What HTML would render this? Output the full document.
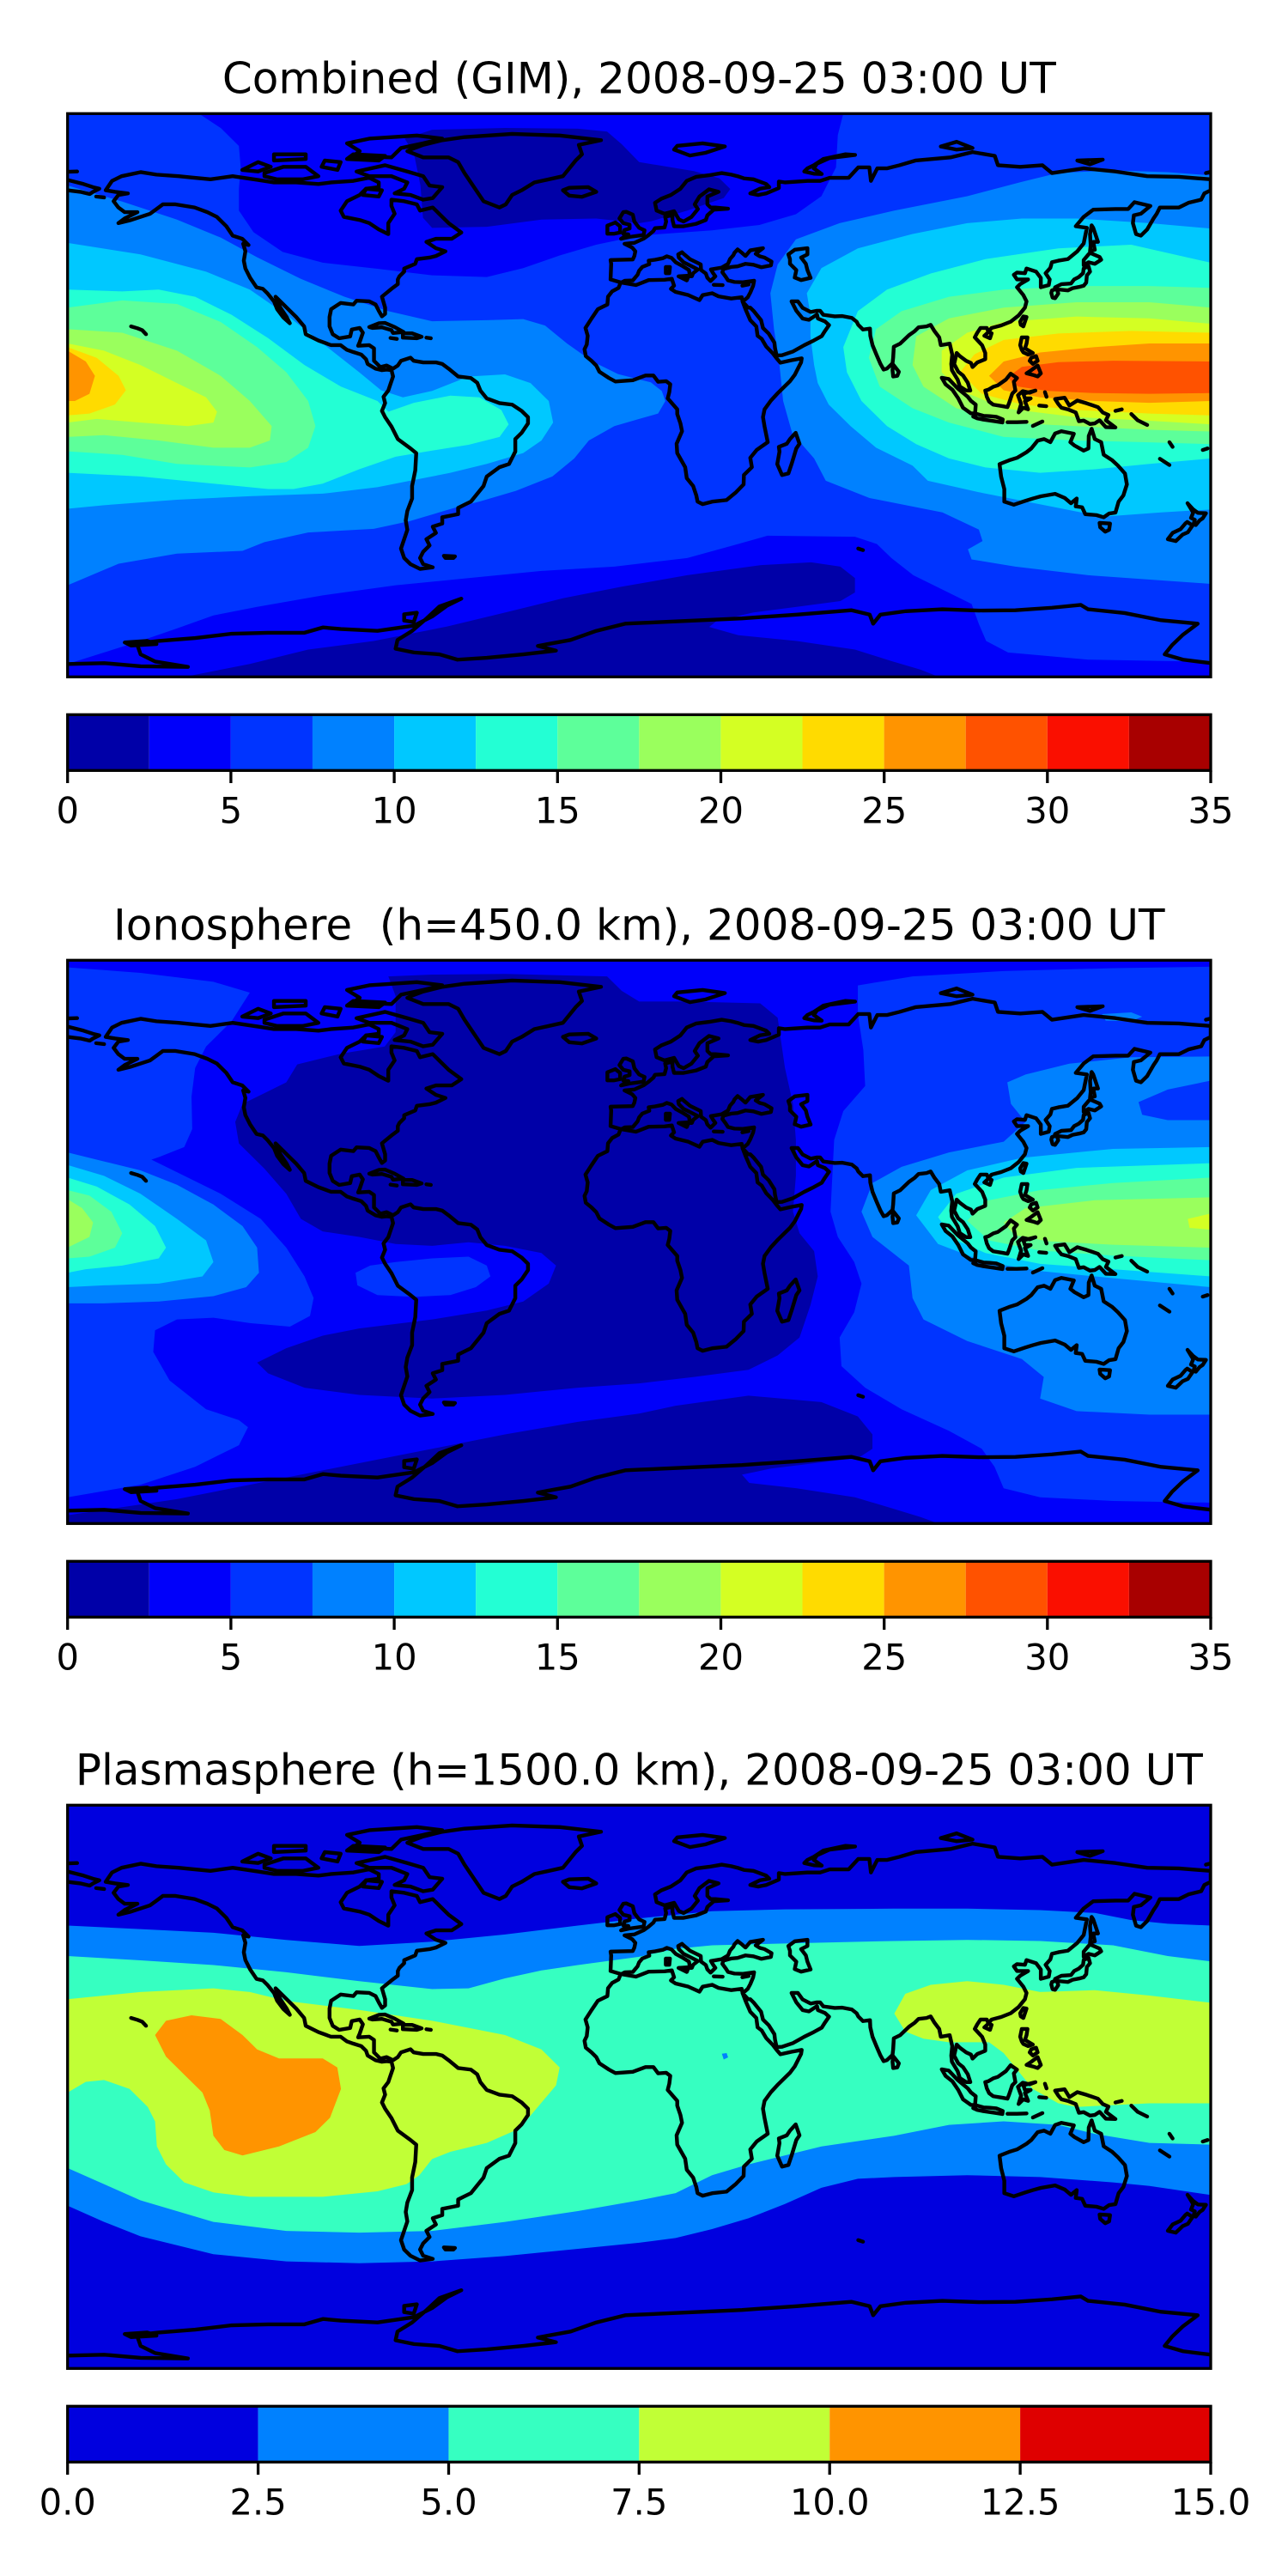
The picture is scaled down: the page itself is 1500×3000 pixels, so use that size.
<!DOCTYPE html>
<html><head><meta charset="utf-8">
<style>
html,body{margin:0;padding:0;background:#fff;width:1500px;height:3000px;overflow:hidden}
svg{display:block}
text{font-family:"DejaVu Sans","Liberation Sans",sans-serif;fill:#000}
.t{font-size:50px;white-space:pre}
.k{font-size:41.67px}
</style></head>
<body>
<svg width="1500" height="3000" viewBox="0 0 1500 3000">
<defs>
<clipPath id="c1"><rect x="78.7" y="132.3" width="1331.3" height="656"/></clipPath>
<clipPath id="c2"><rect x="78.7" y="1118.3" width="1331.3" height="656"/></clipPath>
<clipPath id="c3"><rect x="78.7" y="2102.3" width="1331.3" height="656"/></clipPath>
<g id="coast" fill="none" stroke="#000" stroke-width="1.2" stroke-linejoin="round" stroke-linecap="round">
<polygon points="-168,65.5 -166,68.5 -163,70 -157,71.3 -152,70.5 -145,70 -141,69.6 -135,69 -128,70 -120,68.8 -115,68 -108,68 -101,67.5 -97,68 -90,68.5 -85,69.5 -82,68 -82,66.5 -86,66 -88,64 -92,62 -94,59 -93,57 -88,56 -85,55 -82,53 -79,51.5 -79,55 -77,58 -78,60.5 -78,62.5 -74,62 -70,61 -69,59 -65,60 -62,57 -60,55 -56,52 -59,50 -64,50 -67,49 -64,47 -61,46 -64,44.5 -66,44 -70,43.5 -70.5,42 -74,40.5 -74,39.5 -75.5,38 -76,37 -76,35.5 -78,34 -81,31.5 -80,28 -80,26 -81,25.2 -82,27 -83,29 -85,30 -89,30.2 -90,29 -94,29.5 -97,27.5 -97.5,25 -97.5,22 -96.5,19.5 -94.5,18.2 -91,18.8 -90.5,21 -88,21.5 -87,20 -88,17 -88.5,15.8 -85,16 -83.5,15 -83.5,11 -81.5,9 -79.5,9.5 -77.5,8.5 -76,9.5 -75,11 -72,12 -71,11 -68,10.5 -64,10.5 -62,10 -60,8.5 -57,6 -53,5.5 -51,4 -50,1.5 -48,-1 -44,-2.5 -40,-3 -37,-5 -35,-7 -35,-9 -37,-12 -39,-14 -39,-18 -40,-20 -41,-22 -44,-23 -48,-26 -49,-29 -51,-31.5 -53,-34 -55,-35 -57,-36 -57,-38 -62,-39 -62,-41 -65,-42 -64,-44 -67,-46 -66,-48 -68,-50 -69,-52 -68,-54 -65,-55 -69,-55.5 -72,-54 -74,-52 -75,-49 -74,-46 -73,-43 -73.5,-40 -73,-37 -71.5,-33 -71.5,-29 -70.5,-24 -70.2,-18.5 -72,-17 -76,-14 -78,-10 -80,-7 -81,-5 -80,-2.5 -80.5,-0.5 -79,1.5 -78.5,3 -77.5,6 -78,8 -79.5,8.2 -81,8 -83,8.5 -85.5,10 -86,11.5 -87.5,13 -90,13.8 -92,14.5 -94,16 -97,16 -101,17.5 -105,19.5 -105.5,22 -108,25 -110,27 -112.5,29.5 -114.5,31.5 -113,28 -111,25 -110,23 -112,24.8 -114,27.5 -115,30 -117,32.5 -118.5,34 -120.5,34.5 -122.5,37.5 -124,40.5 -124.5,43 -124,46 -124.7,48.4 -123,48 -125,50 -128,51 -130,54 -133,57 -136,58.5 -140,60 -146,61 -150,61 -152,59.5 -154,58 -157,57 -160,56 -164,55 -162,56.5 -158,58.5 -162,58.5 -164,60 -165.5,62 -164,64 -161,64.5 -165,65"/>
<polygon points="-80,73.5 -73,71.5 -68,70 -66,67 -62,66.5 -65,63 -68,62.5 -72,64 -77,64.5 -74,66 -73,68 -78,70 -85,70 -89,71.5"/>
<polygon points="-118,71 -112,73 -105,73 -101,70 -106,69 -114,69 -118,70"/>
<polygon points="-125,72 -120,74.5 -116,73 -120,71.5"/>
<polygon points="-90,76.5 -78,76 -75,79 -68,80.5 -62,82 -70,83 -85,82 -92,80.5 -88,78"/>
<polygon points="-92,75.5 -82,75 -80,76.5 -90,77"/>
<polygon points="-115,75 -105,75.5 -105,77 -115,77"/>
<polygon points="-100,73 -95,72 -94,74.5 -99,75"/>
<polygon points="-87,64 -82,63.5 -81,65.5 -86,66"/>
<polygon points="-73,78 -68,76 -60,76 -57,74.5 -55,71 -53,68 -51,65 -49,62 -44,60 -42,61 -40,64 -37,65.5 -33,68 -24,70 -22,72.5 -20,75 -18,77 -19,80 -12,81.5 -25,83 -40,83.5 -55,82.5 -62,81.5 -68,80 -72,78.5"/>
<polygon points="-24,65.5 -22,66.3 -16,66.5 -13.5,65 -18,63.4 -22,63.8"/>
<polygon points="-85,21.8 -82,23 -80,23.1 -77,21.8 -74.2,20.2 -77.5,19.9 -78,20.8 -81,21.7 -84,21.5"/>
<polygon points="-74.4,19.8 -71.5,19.8 -68.5,18.7 -70,18.2 -74.4,18.4"/>
<polyline points="-67,18.4 -65.6,18.2"/>
<polyline points="-78.3,18.3 -76.3,18"/>
<polyline points="-160,22 -158,21.4 -156.5,20.8 -155.3,19.5"/>
<polygon points="-61.5,-51.3 -58,-51.5 -58.5,-52 -61,-52"/>
<polygon points="-5.6,36 -9,37 -8.8,42 -9,43.2 -2,43.4 -1.5,44.5 -1.2,46 -2.2,47.2 -4.6,48.4 -1.5,48.7 1.5,50.1 3,51.2 4.5,52.5 5,53.4 8,53.6 8.5,55.5 8.2,57 10.5,57.6 10.5,56 11,54 14,54 18,54.8 21,56 21.5,57.5 23.5,59.3 28,59.6 24,60 22.5,60 21.5,61 21.5,63.5 25,65 22,65.8 19,63.5 17.5,61 18.5,59.5 16.5,57 14,55.5 12.5,56.2 11,58.8 8,58 5.5,59 5,61.5 7,62.8 10,64 13,66 15,68.5 18,69.8 22,70.3 26,71 29,70.5 31,70 33,69.3 36,69 40,67.5 41,66.5 38,66 35,64.5 37.5,64 40,64.5 44,66.2 44,68.3 46,68 53,68.5 57,68.5 60,69.5 66,69.5 69,72.8 72.5,72.8 73,68.5 75,72.5 78,72.5 82,73.5 87,75 98,76 105,77.7 112,76.5 113,73.5 120,73 127,73.5 130,71 140,72.5 150,71.5 160,70 170,69.8 180,69 180,65.5 178,64.5 177,62.5 173,61.5 170,60 164,60 163,58 162,56.5 160,53 158,51 156.5,51.5 155.5,55 155.8,57.5 158,58 161,60.5 156,61.7 154,59.5 150,59.5 143,59.3 140,57 137.5,54 141,53.5 140,48.5 138,46 135,43.5 132,43 130,42.5 129.5,40.7 128,39 129.3,37 129,35.2 126.5,34.5 126.5,37.5 125,39.5 122,40.5 121.5,39 119,39.2 118,38.5 119,37 122.5,37 120,35.5 119,34.5 121,32 122,30 121.5,28 119.5,25.5 117,23.5 114,22.3 111,21.5 110,20.3 109.5,21.5 107.5,21.5 106.5,20 105.7,18.5 108,16 109,13.5 109,11.5 106.5,10.5 105,9 104.5,10.3 103,11 101,12.5 100,13.5 99.2,10 100.5,7.5 102,6.3 103.5,4 104.3,1.5 103,1.5 101,2.8 100.3,5 98.5,8 98.3,10 98.6,13 97.8,16.5 95,16 94.5,18.5 93,20.5 91.8,22.5 90.5,22 88,21.7 86.8,20.5 85,19.2 82.2,16.5 80.2,15.5 80,12 79.8,10.2 78,8.5 77,8.2 76,10 74.8,12.8 73.5,16 72.8,19 72.7,21.3 70.5,21 69,22.5 68.5,23.5 67,24.7 64,25.3 61.6,25.2 58,25.7 57,27 56,27 54,26.6 51.5,27.9 50,30 48,30 49.5,27 51.5,24.5 53.5,24.1 56,25.8 56.3,24.5 58.5,23.6 59.8,22.4 58.5,20.5 57.5,18.9 55,17.5 52,16 48.5,14 45,12.8 43.3,12.7 42.8,15 42.6,16.8 40.8,19.7 39,21.5 38.4,24 36,27 35,28 34.3,28 32.6,29.9 34.2,31.3 35,32.8 35.9,35 36.2,36.6 32.5,36.1 30,36.2 28,36.7 27.3,37.8 26.2,39.3 26.5,40.3 29,41 31,41.2 33.5,42 36,41.7 38.5,40.9 41.5,41.5 41.7,42.7 39.5,44 38,44.4 36.7,45.2 39,47 35,46.3 33.5,44.5 32.5,45.4 31,46.6 30,45.5 29.7,44.8 28.6,43.5 28,42 26,40.8 22.6,40.2 23.3,39 24,38 22.5,36.5 21.5,37.5 21,38.9 19.5,40 19.4,41.8 16,43.5 14,45.2 13.5,45.7 12.3,45 12.5,44 14,42.5 16,41.5 18.5,40.2 17,39 16.6,38 16,38 15.7,40 13.8,41.2 11.5,42.5 10.2,43.9 8.7,44.4 7.5,43.8 5,43.3 3,43 3.2,41.9 1,41 0,39.8 -0.5,38.5 -2,36.7 -4.5,36.6"/>
<polygon points="47,45 49,46.5 53,47 53,45 51,44 52.5,42 53,40 54,37.5 51,36.8 49,37.6 49.5,40 47.5,42 47.5,43.5"/>
<polygon points="-5.7,50 -3,50.6 1.4,51.2 1.7,52.7 0,53.5 -1.5,55.5 -2,57.7 -4,58.6 -5,58.5 -6.2,56.5 -5,55 -3,54.5 -3,53.3 -4.6,52.8 -5,51.6 -3.4,51.4"/>
<polygon points="-6,52 -6,54 -7.5,55.2 -10,54.2 -10,51.6 -8,51.6"/>
<polygon points="12.4,38 15.6,38.2 15,36.7"/>
<polygon points="8.4,41 9.7,41 9.5,39 8.4,39"/>
<polyline points="23.5,35.3 26.3,35.2"/>
<polyline points="32.5,35 34.5,35.4"/>
<polygon points="-5.6,36 -1,35.2 3,36.8 8,36.9 10.3,37.2 11,35 10,34 11.5,33 15.5,32 19,30.4 20,32 23,32.6 25,31.6 29,30.9 32.3,31.3 32.6,29.9 33.5,27.5 35,24 36.9,22 37.3,19 38.6,18 40,15.6 42,13.5 43.3,11.8 44.5,10.4 48,11.2 51.2,11.8 51,10.5 49,6.5 47.5,4.5 43.5,0.5 41.5,-1.7 39.5,-4.5 39,-7 39.5,-10 40.5,-15 37,-17.5 35,-20 35.5,-23 33,-25.5 32.9,-28.5 30.5,-31 27.5,-33.5 23,-34 20,-34.8 18.4,-34 18,-32 17,-29 15,-26.5 14.5,-23 12,-18.5 11.8,-15.5 13.5,-11.5 13,-9 12,-6 12,-4.5 9,-1 9.5,1 9.8,3.5 8.5,4.5 6,4.3 4.5,6.3 2,6.3 -2,4.8 -7.5,4.4 -9.5,5.5 -12.5,7.5 -13.5,9.5 -15,11 -16.8,12.5 -17.2,14.7 -16.5,16.2 -16.2,19 -16.9,21.5 -15,24.5 -13,27.5 -10,29 -9.8,31.5 -8.5,33.2 -6.5,34.3 -5.9,35.8"/>
<polygon points="49.3,-12 50.5,-15.5 49.5,-17 48,-22 47,-25 45,-25.5 43.5,-22 44.2,-18 44,-16.5 46.5,-15.5 47.5,-14"/>
<polygon points="80,9.8 81.8,7.5 81.3,6.2 80,6 79.8,8"/>
<polygon points="130.9,34 132,33.8 135,33.5 136.5,34.2 138.5,34.6 140,35 140.8,36 141,38.3 142,39.5 141.5,41.3 140,40.5 139.8,39 138.5,37.8 137,37 136,35.7 133,35.5 131,34.5"/>
<polygon points="140,41.5 141.5,42.5 143.5,42 145.5,43.3 145,44.2 142,45.5 141.5,45 140,43.2"/>
<polygon points="130,33.5 131.5,34 132,32.5 131,31 130.2,31.2 129.8,32.7"/>
<polygon points="142,46 143.5,46.5 143,49 144.5,49 143,53.5 142.5,54.3 142,51.5 142.2,48"/>
<polygon points="120.2,22.5 121,22 122,25 121,25.2 120,23.5"/>
<polygon points="108.7,19 110.5,18.2 111,19.8 110,20.2"/>
<polygon points="120.5,18.5 122.3,18.5 122,16.5 121.5,15 124,13.5 122.5,13 121,13.7 120.5,14.5 120,16 120.3,17.5"/>
<polygon points="122,7 123.5,8 125.5,9.5 126.5,7 125.5,6 124,6.5"/>
<polygon points="123,11 124,10 125.5,11 125,12.5 123.5,12"/>
<polygon points="109,1.5 110,1.8 111.5,2.7 113,3.2 115.5,5 117,6.9 119,5.5 118,4.3 118.5,1.5 117.5,0.5 116.5,-2.5 116,-3.8 114.5,-3.5 111.5,-3 110.2,-2 109.5,-0.5"/>
<polygon points="95.3,5.6 97.5,5.2 100.3,2.2 103.5,-0.5 104.5,-1.8 106,-3 105.8,-5.8 104.5,-5.8 102,-4 100.5,-1 98.7,1.7 96.5,3.5"/>
<polygon points="105.2,-6.8 106.5,-6 108.5,-6.6 110.5,-6.7 112.5,-6.9 114.5,-7.7 114.4,-8.7 112,-8.3 108.5,-7.8 106.5,-7.4"/>
<polygon points="119.5,-5.5 120.3,-2.8 119.3,0 120.8,1.3 123,0.8 124.8,1.5 121,0.5 121.5,-1 123.3,-1 121.5,-2 122.5,-4.5 121,-4"/>
<polyline points="124,-9.8 127,-8.4"/>
<polyline points="116,-8.6 119,-8.6 122,-8.5"/>
<polyline points="126,-3.3 128.2,-3.5"/>
<polyline points="127.8,1 128.3,-0.5"/>
<polygon points="131,-1.2 134,-0.8 135.5,-3.3 138,-1.7 141,-2.6 144.5,-3.8 146,-5.5 147.8,-6.3 147,-8 150,-10.3 147,-10.2 145,-8 143.5,-9 142,-9.2 140,-8.1 138.5,-8.3 137.5,-5.5 135,-4.5 133,-4 132,-2.8"/>
<polyline points="150,-5 152,-4.5"/>
<polyline points="155,-6 157,-8 160,-9.5"/>
<polygon points="113.5,-22 114,-26 115,-30 115,-34 118,-35 121.5,-33.8 124,-33 126.5,-32.3 131,-31.5 134,-32.8 136,-34.5 137.8,-33 137.5,-35.5 139.5,-35.8 140.5,-38 144,-38.3 146.3,-39 148,-37.8 150,-37.5 151,-34 152.5,-32 153.6,-28.5 153,-25 150.8,-22.5 149,-20.8 146.3,-19 145.5,-15 143.5,-14 142.5,-10.7 141.6,-13 141.5,-17 140,-17.7 137,-16 135.8,-15 136.9,-12.3 133,-11.5 131,-12.2 129.5,-15 127.5,-14 125.5,-14.5 123.5,-17 122,-18.2 119,-20 116.5,-20.8 114,-21.8"/>
<polygon points="145,-40.8 148.3,-41 148,-43 146.8,-43.6 145.2,-42.2"/>
<polygon points="172.7,-34.5 174.5,-36.5 176,-37.6 178.5,-37.7 177.5,-39.3 176.5,-40 175.3,-41.5 174.6,-41.2 175,-39.8 173.8,-39.2 174.5,-37.5"/>
<polygon points="172.6,-40.5 174.3,-41.6 172.8,-43.8 171.2,-44.5 169,-46.6 166.5,-46 168,-44 170.5,-42.8 172,-41"/>
<polyline points="164,-20.3 167,-22.3"/>
<polyline points="167,-15 168,-16.5"/>
<polyline points="177.5,-17.5 179,-17"/>
<polyline points="69,-49 70.5,-49.5"/>
<polygon points="52,71.5 55,70.8 57.5,70.7 55,72.5 56,74 60,75.8 68,76.8 65,77 58,75.5 55,73.5 53,72.5"/>
<polygon points="11,78.5 16,76.6 21,77.5 27,79.5 20,80.5 12,79.7"/>
<polygon points="95,79.5 100,78.5 105,79 100,81"/>
<polygon points="138,75 146,75.3 142,73.8"/>
<polyline points="178.5,71 180,71.4"/>
<polyline points="-180,71.4 -177,71.5"/>
<polyline points="-180,68.8 -175,67.5 -172,66.5 -170,66 -172,65 -173,64.3 -176,65 -178.5,65.3 -180,65.5"/>
<polyline points="-171,63.5 -168.5,63.2"/>
<polyline points="-180,-85.9 -168.5,-85.6 -157,-86.6 -142.1,-86.8 -152.4,-85.1 -157,-82.8 -158.2,-79.3 -151.3,-78.5 -139.8,-77.6 -128.3,-76.2 -116.9,-75.9 -105.4,-75.9 -99.6,-74.2 -93.9,-74.7 -82.4,-75.3 -70.9,-73.6 -65.2,-70.7 -60.6,-67.3 -56,-65 -62.9,-67.5 -66.9,-71.3 -71.5,-75.3 -76.1,-78.2 -76.7,-81 -70.9,-82.2 -62.9,-82.8 -57.2,-84.5 -48,-83.9 -36.5,-82.8 -26.2,-81.6 -31.9,-80.1 -21.6,-78.2 -13.5,-75.3 -4.4,-73 0,-72.8 15.2,-72.1 32.4,-71.3 49.6,-70.1 66.8,-68.7 72.6,-70.1 73.7,-73 76,-70.1 84,-69 95.5,-68.4 107,-68.8 118.5,-68.7 130,-67.9 139.1,-67 141.4,-68.4 152.9,-69.6 164.4,-71.9 175.9,-73 171.3,-76.5 167.8,-79.9 165.5,-82.8 171.3,-84.5 180,-85.6"/>
<polygon points="-162,-79 -155,-78.5 -152,-79.5 -160,-80"/>
<polygon points="-74,-70 -70,-69.5 -71,-72.5 -74,-72"/>
</g>
</defs>
<rect x="0" y="0" width="1500" height="3000" fill="#fff"/>

<!-- ================= PANEL 1 ================= -->
<text class="t" x="744.3" y="108.3" text-anchor="middle">Combined (GIM), 2008-09-25 03:00 UT</text>
<g clip-path="url(#c1)">
<g transform="matrix(0.42452,0,0,0.41837,78.7,132.3)">
<rect x="-20" y="-20" width="3180" height="1610" fill="#0034ff"/>
<polygon fill="#0000fa" points="360,-20 2128,-20 2128,0 2113,60 2108,150 2068,230 1998,280 1898,310 1768,325 1628,335 1568,340 1450,365 1350,395 1250,430 1150,455 1000,450 850,432 700,415 590,385 510,330 470,270 470,210 475,150 470,90 420,40 360,0"/>
<polygon fill="#0000a8" points="925,70 1000,45 1200,40 1400,42 1480,50 1520,85 1568,135 1718,160 1788,180 1818,210 1800,235 1700,270 1600,300 1568,305 1450,292 1300,295 1150,315 1000,318 975,290 968,200 950,110"/>
<polygon fill="#0000fa" points="-20,1532 0,1532 100,1500 200,1468 300,1433 400,1397 520,1373 700,1341 900,1313 1100,1293 1300,1273 1500,1261 1700,1237 1840,1198 1920,1175 2160,1178 2220,1198 2260,1237 2320,1285 2400,1325 2480,1365 2500,1421 2520,1468 2580,1500 2800,1520 3136,1526 3160,1526 3160,1600 -20,1600"/>
<polygon fill="#0000a8" points="300,1600 300,1572 500,1532 660,1492 840,1468 1040,1428 1200,1389 1360,1349 1520,1317 1700,1285 1900,1257 2040,1249 2120,1261 2160,1293 2160,1333 2120,1357 2000,1373 1880,1389 1780,1413 1760,1429 1840,1452 2000,1468 2160,1492 2260,1524 2340,1548 2400,1572 2400,1600"/>
<!-- left (Pacific / Americas) -->
<polygon fill="#0081ff" points="-20,200 0,200 150,245 300,295 420,345 520,400 640,460 760,510 880,550 1000,578 1150,575 1250,572 1310,590 1370,640 1440,690 1510,725 1568,740 1600,748 1630,772 1640,800 1620,835 1568,850 1500,870 1430,910 1390,960 1330,1010 1230,1050 1130,1080 1060,1098 940,1134 840,1156 660,1166 540,1193 480,1217 300,1225 140,1253 0,1313 -20,1313"/>
<polygon fill="#00c8ff" points="-20,360 0,360 200,392 380,440 500,490 600,560 700,640 800,720 860,770 920,790 1000,772 1100,732 1200,726 1270,750 1320,800 1332,860 1300,910 1250,945 1150,975 1050,1000 950,1020 850,1040 700,1058 500,1065 300,1075 100,1090 0,1100 -20,1100"/>
<polygon fill="#23ffd4" points="-20,490 0,490 150,495 250,490 350,510 450,560 550,625 650,700 750,760 850,800 880,830 950,805 1050,785 1130,790 1190,825 1210,865 1185,900 1100,922 1000,938 900,955 800,990 700,1030 620,1045 550,1045 400,1030 200,1010 0,1000 -20,1000"/>
<polygon fill="#5dff9a" points="-20,540 0,540 150,520 300,530 420,580 520,650 600,720 660,800 680,870 660,930 600,970 500,985 300,975 150,950 0,940 -20,940"/>
<polygon fill="#9aff5d" points="-20,600 0,600 150,610 300,660 420,730 500,800 560,870 555,910 500,930 400,930 250,910 100,895 0,900 -20,900"/>
<polygon fill="#d4ff23" points="-20,640 0,640 100,660 200,700 300,750 380,790 410,830 400,860 330,870 200,860 80,850 0,860 -20,860"/>
<polygon fill="#ffdb00" points="-20,650 0,650 80,680 140,730 160,770 130,810 60,835 0,840 -20,840"/>
<polygon fill="#ff9400" points="-20,660 0,660 50,690 75,730 60,780 20,800 0,800 -20,800"/>
<!-- right (Asia / Indian Ocean) -->
<polygon fill="#0081ff" points="1948,420 1998,350 2118,305 2268,270 2468,230 2618,190 2718,165 2868,158 3018,163 3136,172 3160,172 3160,1309 3136,1309 2800,1285 2600,1261 2480,1241 2470,1213 2510,1190 2500,1158 2400,1110 2200,1070 2080,1022 2048,960 1988,890 1963,800 1953,700 1938,600 1928,500"/>
<polygon fill="#00c8ff" points="2038,560 2028,500 2068,430 2168,375 2318,335 2468,305 2618,292 2768,292 2968,305 3136,320 3160,320 3160,1102 3136,1102 3000,1110 2840,1122 2700,1094 2500,1054 2360,1022 2318,980 2218,930 2148,870 2088,810 2058,750 2048,700 2038,620"/>
<polygon fill="#23ffd4" points="2168,550 2248,490 2368,445 2518,405 2718,375 2918,365 3136,415 3160,415 3160,960 3136,960 2968,975 2818,990 2668,1000 2518,985 2418,960 2328,920 2248,870 2178,800 2138,720 2128,650"/>
<polygon fill="#5dff9a" points="2218,600 2288,550 2418,510 2568,490 2768,480 2968,480 3136,485 3160,485 3160,920 3136,920 2968,915 2768,910 2568,900 2418,860 2318,820 2228,760 2198,680"/>
<polygon fill="#9aff5d" points="2328,620 2418,570 2568,540 2768,525 2968,525 3136,540 3160,540 3160,885 3136,885 2968,880 2768,870 2568,860 2438,820 2348,760 2318,700"/>
<polygon fill="#d4ff23" points="2398,660 2468,610 2568,580 2768,565 2968,570 3136,585 3160,585 3160,865 3136,865 2968,855 2768,845 2568,820 2448,770 2398,720"/>
<polygon fill="#ffdb00" points="2448,720 2488,670 2568,630 2718,612 2918,605 3136,610 3160,610 3160,840 3136,840 2968,835 2768,825 2618,810 2508,780"/>
<polygon fill="#ff9400" points="2528,730 2568,690 2668,665 2818,650 2968,640 3136,640 3160,640 3160,800 3136,800 2968,805 2818,800 2668,790 2568,770"/>
<polygon fill="#ff5200" points="2578,735 2618,705 2718,692 2868,688 3136,690 3160,690 3160,778 3136,778 2968,780 2818,778 2688,772 2608,760"/>
</g>
<use href="#coast" transform="matrix(3.698,0,0,-3.6444,744.34,460.3)"/>
</g>
<rect x="78.7" y="132.3" width="1331.3" height="656" fill="none" stroke="#000" stroke-width="3.3"/>
<!-- colorbar 1 -->
<g>
<rect x="78.7" y="832.3" width="95.09" height="65" fill="#0000a8"/>
<rect x="173.79" y="832.3" width="95.09" height="65" fill="#0000fa"/>
<rect x="268.88" y="832.3" width="95.09" height="65" fill="#0034ff"/>
<rect x="363.97" y="832.3" width="95.09" height="65" fill="#0081ff"/>
<rect x="459.06" y="832.3" width="95.09" height="65" fill="#00c8ff"/>
<rect x="554.15" y="832.3" width="95.09" height="65" fill="#23ffd4"/>
<rect x="649.24" y="832.3" width="95.09" height="65" fill="#5dff9a"/>
<rect x="744.33" y="832.3" width="95.09" height="65" fill="#9aff5d"/>
<rect x="839.42" y="832.3" width="95.09" height="65" fill="#d4ff23"/>
<rect x="934.51" y="832.3" width="95.09" height="65" fill="#ffdb00"/>
<rect x="1029.6" y="832.3" width="95.09" height="65" fill="#ff9400"/>
<rect x="1124.69" y="832.3" width="95.09" height="65" fill="#ff5200"/>
<rect x="1219.78" y="832.3" width="95.09" height="65" fill="#fa0f00"/>
<rect x="1314.87" y="832.3" width="95.13" height="65" fill="#a80000"/>
<rect x="78.7" y="832.3" width="1331.3" height="65" fill="none" stroke="#000" stroke-width="3.3"/>
<g stroke="#000" stroke-width="3.3">
<line x1="78.7" y1="897.3" x2="78.7" y2="912"/><line x1="268.9" y1="897.3" x2="268.9" y2="912"/><line x1="459.1" y1="897.3" x2="459.1" y2="912"/><line x1="649.3" y1="897.3" x2="649.3" y2="912"/><line x1="839.5" y1="897.3" x2="839.5" y2="912"/><line x1="1029.7" y1="897.3" x2="1029.7" y2="912"/><line x1="1219.8" y1="897.3" x2="1219.8" y2="912"/><line x1="1410" y1="897.3" x2="1410" y2="912"/>
</g>
<g text-anchor="middle">
<text class="k" x="78.7" y="958.3">0</text><text class="k" x="268.9" y="958.3">5</text><text class="k" x="459.1" y="958.3">10</text><text class="k" x="649.3" y="958.3">15</text><text class="k" x="839.5" y="958.3">20</text><text class="k" x="1029.7" y="958.3">25</text><text class="k" x="1219.8" y="958.3">30</text><text class="k" x="1410" y="958.3">35</text>
</g>
</g>

<!-- ================= PANEL 2 ================= -->
<text class="t" x="744.3" y="1094.3" text-anchor="middle">Ionosphere  (h=450.0 km), 2008-09-25 03:00 UT</text>
<g clip-path="url(#c2)">
<g transform="matrix(0.42452,0,0,0.41837,78.7,1118.3)">
<rect x="-20" y="-20" width="3180" height="1610" fill="#0000fa"/>
<polygon fill="#0034ff" points="-20,20 0,20 200,35 400,60 500,90 450,170 380,240 350,300 340,380 342,470 320,520 250,548 230,555 300,590 420,650 530,720 600,800 650,880 675,940 665,990 610,1020 500,1010 400,995 300,1000 240,1030 235,1090 280,1170 380,1250 470,1280 495,1300 470,1350 350,1410 200,1460 0,1495 -20,1495"/>
<polygon fill="#0034ff" points="2168,70 2318,45 2568,30 2868,22 3136,18 3160,18 3160,1510 3136,1510 2868,1505 2668,1495 2568,1470 2543,1410 2508,1360 2418,1310 2288,1250 2188,1190 2123,1130 2118,1050 2158,980 2178,900 2158,840 2113,770 2093,700 2098,600 2103,500 2128,420 2188,350 2183,250 2168,150"/>
<polygon fill="#0000a8" points="880,45 1000,40 1200,38 1480,45 1520,85 1568,115 1700,115 1900,120 1948,160 1968,300 1990,400 1998,500 1998,600 1990,700 2008,760 2048,810 2058,880 2038,960 2008,1050 1948,1100 1868,1140 1718,1160 1568,1178 1400,1190 1200,1210 1000,1220 800,1210 650,1190 550,1150 520,1120 600,1080 700,1045 800,1025 1000,1000 1150,975 1250,950 1320,900 1340,850 1300,815 1200,795 1100,785 1000,795 900,790 800,770 700,755 640,720 600,650 540,580 470,510 460,450 480,400 600,340 630,290 750,260 870,240 900,200 900,100"/>
<polygon fill="#0034ff" points="790,870 830,850 900,840 1000,830 1100,825 1150,850 1160,880 1120,910 1050,932 950,937 850,932 795,905"/>
<polygon fill="#0000a8" points="-20,1545 0,1545 300,1500 600,1440 900,1380 1200,1320 1400,1285 1568,1262 1668,1240 1868,1212 2068,1230 2168,1270 2208,1320 2208,1360 2170,1385 2050,1400 1930,1415 1850,1432 1870,1455 2000,1470 2160,1495 2260,1525 2340,1550 2400,1572 2400,1600 -20,1600"/>
<polygon fill="#0081ff" points="-20,535 0,535 100,560 200,585 300,625 400,680 480,740 520,800 525,870 490,910 400,935 250,950 100,955 0,955 -20,955"/>
<polygon fill="#00c8ff" points="-20,570 0,570 100,600 200,650 300,720 380,780 400,840 370,880 250,900 100,905 0,910 -20,910"/>
<polygon fill="#23ffd4" points="-20,605 0,605 80,630 170,680 240,740 270,800 250,830 150,850 50,860 0,870 -20,870"/>
<polygon fill="#5dff9a" points="-20,640 0,640 60,655 120,700 150,760 130,800 60,825 0,830 -20,830"/>
<polygon fill="#9aff5d" points="-20,665 0,665 40,690 70,730 60,770 20,790 0,800 -20,800"/>
<polygon fill="#0081ff" points="2178,700 2208,620 2288,575 2418,535 2568,505 2628,450 2588,400 2578,340 2628,318 2748,288 2918,270 3136,268 3160,268 3160,335 3136,335 3018,360 2938,395 2948,430 3018,445 3136,445 3160,445 3160,1265 3136,1265 2968,1265 2768,1255 2668,1220 2678,1160 2618,1110 2468,1060 2348,1000 2318,940 2308,850 2208,770"/>
<polygon fill="#0081ff" points="2838,150 2918,145 2948,157 2918,170 2848,168"/>
<polygon fill="#00c8ff" points="2328,710 2368,640 2468,585 2618,550 2868,525 3136,520 3160,520 3160,910 3136,910 2868,885 2668,865 2518,840 2388,790"/>
<polygon fill="#23ffd4" points="2388,715 2438,650 2568,605 2768,578 3136,565 3160,565 3160,880 3136,880 2868,860 2668,845 2518,815 2428,775"/>
<polygon fill="#5dff9a" points="2468,725 2518,670 2668,640 2868,620 3136,605 3160,605 3160,835 3136,835 2868,822 2668,808 2528,780"/>
<polygon fill="#9aff5d" points="2568,730 2628,690 2818,668 3136,660 3160,660 3160,800 3136,800 2868,792 2688,782 2598,765"/>
<polygon fill="#d4ff23" points="3073,720 3136,705 3160,705 3160,750 3136,750 3078,745"/>
</g>
<use href="#coast" transform="matrix(3.698,0,0,-3.6444,744.34,1446.3)"/>
</g>
<rect x="78.7" y="1118.3" width="1331.3" height="656" fill="none" stroke="#000" stroke-width="3.3"/>
<g>
<rect x="78.7" y="1818.3" width="95.09" height="65" fill="#0000a8"/>
<rect x="173.79" y="1818.3" width="95.09" height="65" fill="#0000fa"/>
<rect x="268.88" y="1818.3" width="95.09" height="65" fill="#0034ff"/>
<rect x="363.97" y="1818.3" width="95.09" height="65" fill="#0081ff"/>
<rect x="459.06" y="1818.3" width="95.09" height="65" fill="#00c8ff"/>
<rect x="554.15" y="1818.3" width="95.09" height="65" fill="#23ffd4"/>
<rect x="649.24" y="1818.3" width="95.09" height="65" fill="#5dff9a"/>
<rect x="744.33" y="1818.3" width="95.09" height="65" fill="#9aff5d"/>
<rect x="839.42" y="1818.3" width="95.09" height="65" fill="#d4ff23"/>
<rect x="934.51" y="1818.3" width="95.09" height="65" fill="#ffdb00"/>
<rect x="1029.6" y="1818.3" width="95.09" height="65" fill="#ff9400"/>
<rect x="1124.69" y="1818.3" width="95.09" height="65" fill="#ff5200"/>
<rect x="1219.78" y="1818.3" width="95.09" height="65" fill="#fa0f00"/>
<rect x="1314.87" y="1818.3" width="95.13" height="65" fill="#a80000"/>
<rect x="78.7" y="1818.3" width="1331.3" height="65" fill="none" stroke="#000" stroke-width="3.3"/>
<g stroke="#000" stroke-width="3.3">
<line x1="78.7" y1="1883.3" x2="78.7" y2="1898"/><line x1="268.9" y1="1883.3" x2="268.9" y2="1898"/><line x1="459.1" y1="1883.3" x2="459.1" y2="1898"/><line x1="649.3" y1="1883.3" x2="649.3" y2="1898"/><line x1="839.5" y1="1883.3" x2="839.5" y2="1898"/><line x1="1029.7" y1="1883.3" x2="1029.7" y2="1898"/><line x1="1219.8" y1="1883.3" x2="1219.8" y2="1898"/><line x1="1410" y1="1883.3" x2="1410" y2="1898"/>
</g>
<g text-anchor="middle">
<text class="k" x="78.7" y="1944.3">0</text><text class="k" x="268.9" y="1944.3">5</text><text class="k" x="459.1" y="1944.3">10</text><text class="k" x="649.3" y="1944.3">15</text><text class="k" x="839.5" y="1944.3">20</text><text class="k" x="1029.7" y="1944.3">25</text><text class="k" x="1219.8" y="1944.3">30</text><text class="k" x="1410" y="1944.3">35</text>
</g>
</g>

<!-- ================= PANEL 3 ================= -->
<text class="t" x="744.3" y="2078.3" text-anchor="middle">Plasmasphere (h=1500.0 km), 2008-09-25 03:00 UT</text>
<g clip-path="url(#c3)">
<g transform="matrix(0.42452,0,0,0.41837,78.7,2102.3)">
<rect x="-20" y="-20" width="3180" height="1610" fill="#0000df"/>
<polygon fill="#0081ff" points="-20,335 0,335 200,345 400,355 600,375 800,392 1000,380 1200,360 1400,335 1568,315 1768,295 1968,290 2268,288 2468,288 2668,292 2818,300 2918,320 3018,330 3136,335 3160,335 3160,1085 3136,1085 2968,1060 2868,1050 2668,1035 2468,1030 2268,1035 2168,1040 2068,1065 1968,1110 1868,1150 1768,1180 1668,1205 1568,1218 1400,1235 1200,1255 1000,1270 800,1275 600,1270 400,1250 200,1200 100,1160 0,1115 -20,1115"/>
<polygon fill="#36ffc1" points="-20,420 0,420 200,432 400,445 600,465 800,490 1000,512 1100,510 1200,482 1300,460 1400,445 1568,422 1668,400 1768,390 1968,385 2268,378 2468,375 2668,378 2868,390 3018,420 3136,435 3160,435 3160,945 3136,945 2968,940 2818,915 2718,890 2568,880 2418,890 2268,920 2068,950 1868,1000 1768,1030 1668,1080 1568,1100 1400,1130 1200,1160 1000,1185 800,1190 600,1185 400,1160 200,1100 100,1055 0,1010 -20,1010"/>
<polygon fill="#c1ff36" points="-20,540 0,540 200,520 400,510 500,520 600,545 800,570 1000,600 1200,640 1300,680 1350,730 1340,780 1290,840 1240,900 1150,940 1050,965 1000,985 965,1030 930,1055 850,1075 700,1090 500,1090 400,1078 320,1050 270,1000 245,950 240,880 220,840 170,790 100,765 50,770 0,800 -20,800"/>
<polygon fill="#ff9400" points="240,640 270,600 340,585 420,595 480,640 520,680 580,705 700,705 740,730 750,790 720,870 680,910 580,950 480,975 430,960 400,920 390,850 370,800 320,750 270,700"/>
<polygon fill="#c1ff36" points="2268,580 2298,525 2368,500 2468,490 2568,500 2668,520 2818,515 2968,530 3136,550 3160,550 3160,830 3136,830 2968,830 2868,835 2768,840 2718,830 2648,790 2608,740 2568,690 2528,660 2418,660 2348,650 2298,630"/>
<polygon fill="#0081ff" points="1795,692 1808,690 1812,702 1800,708"/>
</g>
<use href="#coast" transform="matrix(3.698,0,0,-3.6444,744.34,2430.3)"/>
</g>
<rect x="78.7" y="2102.3" width="1331.3" height="656" fill="none" stroke="#000" stroke-width="3.3"/>
<g>
<rect x="78.7" y="2802.3" width="221.88" height="65" fill="#0000df"/>
<rect x="300.58" y="2802.3" width="221.88" height="65" fill="#0081ff"/>
<rect x="522.46" y="2802.3" width="221.88" height="65" fill="#36ffc1"/>
<rect x="744.34" y="2802.3" width="221.88" height="65" fill="#c1ff36"/>
<rect x="966.22" y="2802.3" width="221.88" height="65" fill="#ff9400"/>
<rect x="1188.1" y="2802.3" width="221.9" height="65" fill="#df0000"/>
<rect x="78.7" y="2802.3" width="1331.3" height="65" fill="none" stroke="#000" stroke-width="3.3"/>
<g stroke="#000" stroke-width="3.3">
<line x1="78.7" y1="2867.3" x2="78.7" y2="2882"/><line x1="300.6" y1="2867.3" x2="300.6" y2="2882"/><line x1="522.5" y1="2867.3" x2="522.5" y2="2882"/><line x1="744.3" y1="2867.3" x2="744.3" y2="2882"/><line x1="966.2" y1="2867.3" x2="966.2" y2="2882"/><line x1="1188.1" y1="2867.3" x2="1188.1" y2="2882"/><line x1="1410" y1="2867.3" x2="1410" y2="2882"/>
</g>
<g text-anchor="middle">
<text class="k" x="78.7" y="2928.3">0.0</text><text class="k" x="300.6" y="2928.3">2.5</text><text class="k" x="522.5" y="2928.3">5.0</text><text class="k" x="744.3" y="2928.3">7.5</text><text class="k" x="966.2" y="2928.3">10.0</text><text class="k" x="1188.1" y="2928.3">12.5</text><text class="k" x="1410" y="2928.3">15.0</text>
</g>
</g>
</svg>
</body></html>
